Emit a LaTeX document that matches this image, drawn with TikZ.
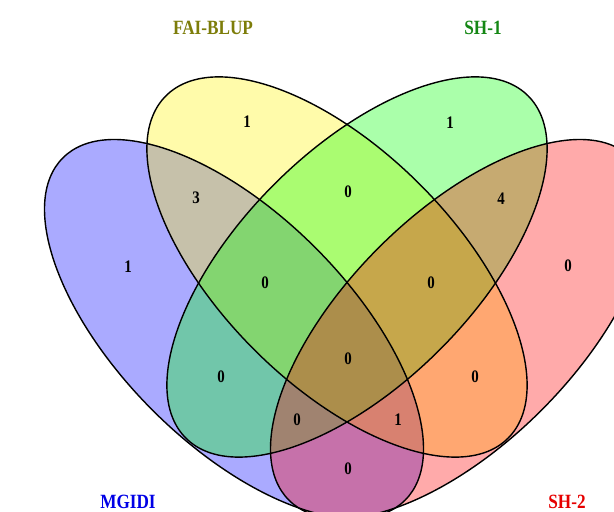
\documentclass[tikz,border=0pt]{standalone}
\usepackage{fontspec}
\setmainfont{Liberation Serif}
\definecolor{catA}{RGB}{0,0,230}
\definecolor{catB}{RGB}{125,125,10}
\definecolor{catC}{RGB}{20,135,20}
\definecolor{catD}{RGB}{230,0,0}

\begin{document}
\begin{tikzpicture}[
    setfill/.style={fill opacity=1/3},
    setline/.style={line width=0.8pt},
    count/.style={font=\bfseries\fontsize{10}{12}\selectfont,xscale=0.85},
    title/.style={font=\bfseries\fontsize{11.5}{14}\selectfont,xscale=0.85}]
   \useasboundingbox (0,0) rectangle (12.28,10.22);
   \clip (0,0) rectangle (12.28,10.22);
   \coordinate (cA) at (4.68,3.64);
   \coordinate (cB) at (6.74,4.88);
   \coordinate (cC) at (7.14,4.88);
   \coordinate (cD) at (9.20,3.64);
   \fill[blue,setfill]   (cA) ellipse [x radius=4.84,y radius=2.30,rotate=-45];
   \fill[yellow,setfill] (cB) ellipse [x radius=4.84,y radius=2.34,rotate=-45];
   \fill[green,setfill]  (cC) ellipse [x radius=4.84,y radius=2.34,rotate=45];
   \fill[red,setfill]    (cD) ellipse [x radius=4.84,y radius=2.30,rotate=45];
   \draw[setline] (cA) ellipse [x radius=4.84,y radius=2.30,rotate=-45];
   \draw[setline] (cB) ellipse [x radius=4.84,y radius=2.34,rotate=-45];
   \draw[setline] (cC) ellipse [x radius=4.84,y radius=2.34,rotate=45];
   \draw[setline] (cD) ellipse [x radius=4.84,y radius=2.30,rotate=45];
   \node[count] (nB)   at (4.94,7.78)  {1};
   \node[count] (nC)   at (9.00,7.76)  {1};
   \node[count] (nA)   at (2.56,4.88)  {1};
   \node[count] (nD)   at (11.36,4.90) {0};
   \node[count] (nAB)  at (3.92,6.26)  {3};
   \node[count] (nCD)  at (10.02,6.24) {4};
   \node[count] (nBC)  at (6.96,6.38)  {0};
   \node[count] (nABC) at (5.30,4.56)  {0};
   \node[count] (nBCD) at (8.62,4.56)  {0};
   \node[count] (nABCD) at (6.96,3.04) {0};
   \node[count] (nAC)  at (4.42,2.68)  {0};
   \node[count] (nBD)  at (9.50,2.68)  {0};
   \node[count] (nACD) at (5.94,1.82)  {0};
   \node[count] (nABD) at (7.96,1.82)  {1};
   \node[count] (nAD)  at (6.96,0.84)  {0};
   \node[title,text=catB] (tB) at (4.26,9.66)  {FAI-BLUP};
   \node[title,text=catC] (tC) at (9.66,9.66)  {SH-1};
   \node[title,text=catA] (tA) at (2.56,0.18)  {MGIDI};
   \node[title,text=catD] (tD) at (11.34,0.18) {SH-2};
\end{tikzpicture}
\end{document}
